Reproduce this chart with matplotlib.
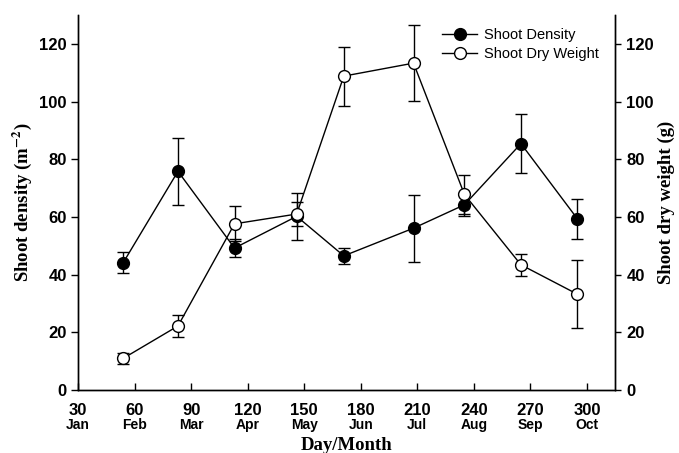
import matplotlib
matplotlib.use("Agg")
import matplotlib.pyplot as plt
from matplotlib.lines import Line2D
import matplotlib.transforms as mtransforms

# Sampling day of year
days = [54, 83, 113, 146, 171, 208, 235, 265, 295]
# Shoot density (m-2) and its error
density = [44.2, 75.8, 49.2, 60.2, 46.5, 56.1, 64.2, 85.4, 59.3]
density_err = [3.5, 11.7, 3.2, 8.2, 2.8, 11.6, 4.0, 10.1, 7.0]
# Shoot dry weight (g) and its error
dry_weight = [11.0, 22.2, 57.6, 61.0, 108.8, 113.3, 67.8, 43.4, 33.2]
dry_weight_err = [2.0, 3.9, 6.1, 4.3, 10.2, 13.2, 6.8, 3.9, 11.7]

tick_days = [30, 60, 90, 120, 150, 180, 210, 240, 270, 300]
months = ["Jan", "Feb", "Mar", "Apr", "May", "Jun", "Jul", "Aug", "Sep", "Oct"]
y_ticks = [0, 20, 40, 60, 80, 100, 120]

plt.rcParams["mathtext.fontset"] = "stix"
sans = "Liberation Sans"
serif = "Liberation Serif"

fig = plt.figure(figsize=(6.79, 4.53), dpi=100)
ax = fig.add_axes([0.115, 0.139, 0.791, 0.828])
ax2 = ax.twinx()

style = dict(color="black", lw=1.0, capsize=4.5, elinewidth=1.0,
             capthick=1.0, markersize=8.5, markeredgewidth=1.0)
ax.errorbar(days, density, yerr=density_err, marker="o",
            markerfacecolor="black", markeredgecolor="black", **style)
ax2.errorbar(days, dry_weight, yerr=dry_weight_err, marker="o",
             markerfacecolor="white", markeredgecolor="black", **style)

for a in (ax, ax2):
    a.set_xlim(30, 315)
    a.set_ylim(0, 130)
    a.set_yticks(y_ticks)
    a.spines["top"].set_visible(False)
    for s in ("left", "right", "bottom"):
        a.spines[s].set_linewidth(1.0)

ax.set_xticks(tick_days)
ax.set_xticklabels([str(d) for d in tick_days], fontfamily=sans,
                   fontweight="bold", fontsize=12)
ax.tick_params(axis="x", direction="in", length=5, width=1.0, pad=9)
ax.tick_params(axis="y", direction="out", length=5, width=1.0, pad=3)
ax2.tick_params(axis="y", direction="out", length=4, width=1.0, pad=4)
for lab in ax.get_yticklabels() + ax2.get_yticklabels():
    lab.set_fontfamily(sans)
    lab.set_fontweight("bold")
    lab.set_fontsize(12)

# Month names under the day numbers
trans = mtransforms.blended_transform_factory(ax.transData, ax.transAxes)
for d, m in zip(tick_days, months):
    ax.text(d, -0.075, m, transform=trans, ha="center", va="top",
            fontfamily=sans, fontweight="bold", fontsize=10)

ax.set_xlabel("Day/Month", fontfamily=serif, fontweight="bold",
              fontsize=13.5, labelpad=14)
ax.set_ylabel(r"Shoot density (m$^{\mathbf{-2}}$)", fontfamily=serif,
              fontweight="bold", fontsize=13.5, labelpad=4)
ax2.set_ylabel("Shoot dry weight (g)", fontfamily=serif,
               fontweight="bold", fontsize=13.5, labelpad=3)

handles = [
    Line2D([], [], color="black", lw=1.0, marker="o", markersize=8.5,
           markerfacecolor="black", markeredgecolor="black"),
    Line2D([], [], color="black", lw=1.0, marker="o", markersize=8.5,
           markerfacecolor="white", markeredgecolor="black"),
]
ax2.legend(handles, ["Shoot Density", "Shoot Dry Weight"], loc="upper right",
           bbox_to_anchor=(0.995, 1.0), frameon=False, handlelength=2.4,
           handletextpad=0.5, labelspacing=0.35,
           prop={"family": sans, "size": 10.5})

fig.savefig("out.png", dpi=100)
